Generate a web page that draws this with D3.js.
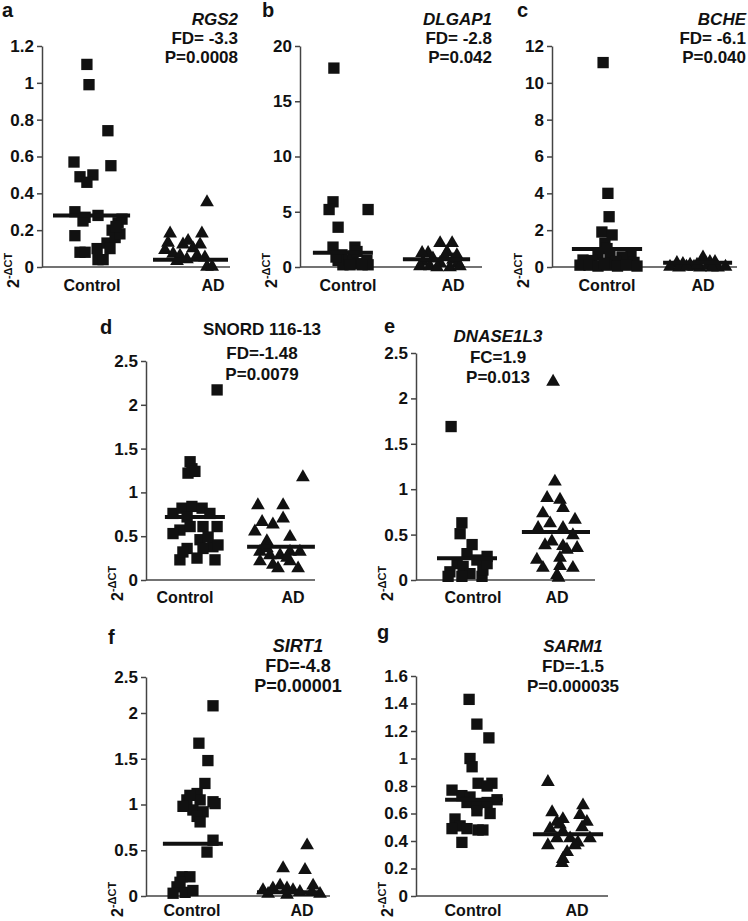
<!DOCTYPE html>
<html><head><meta charset="utf-8">
<script src="https://cdn.jsdelivr.net/npm/d3@7"></script>
<style>
body{margin:0;background:#fff}
svg{display:block}
text{font-family:"Liberation Sans",Arial,sans-serif;font-weight:bold;fill:#111}
</style>
</head><body>
<svg id="chart" width="748" height="921"></svg>
<script>
const categories = ["Control", "AD"];
const panelLetters = ["a","b","c","d","e","f","g"];
const geneNames = ["RGS2","DLGAP1","BCHE","SNORD 116-13","DNASE1L3","SIRT1","SARM1"];
const geneItalic = [true,true,true,false,true,true,true];
const foldLabels = ["FD= -3.3","FD= -2.8","FD= -6.1","FD=-1.48","FC=1.9","FD=-4.8","FD=-1.5"];
const pLabels = ["P=0.0008","P=0.042","P=0.040","P=0.0079","P=0.013","P=0.00001","P=0.000035"];

// a: RGS2
const rgs2Ticks = [0,0.2,0.4,0.6,0.8,1,1.2];
const rgs2Control = [1.10,0.99,0.74,0.57,0.55,0.49,0.50,0.46,0.30,0.27,0.28,0.25,0.17,0.08,0.08,0.10,0.04,0.04,0.13,0.20,0.24,0.26,0.16,0.10,0.18,0.22];
const rgs2ControlDx = [-0.17,-0.10,0.53,-0.60,0.63,-0.40,0.03,-0.17,-0.57,-0.23,0.20,-0.30,-0.57,-0.40,-0.23,0.17,0.20,0.37,0.50,0.67,0.87,1.00,0.77,0.60,0.93,0.80];
const rgs2AD = [0.19,0.14,0.10,0.08,0.13,0.15,0.11,0.19,0.13,0.36,0.06,0.01,0.04,0.05,0.07,0.07,0.01];
const rgs2ADDx = [-1.43,-1.5,-1.6,-1.33,-1.0,-0.83,-0.67,-0.37,-0.43,-0.2,-0.27,-0.2,-1.2,-0.87,-0.53,-1.1,-0.03];
const rgs2Means = [0.28,0.04];

// b: DLGAP1
const dlgap1Ticks = [0,5,10,15,20];
const dlgap1Control = [18.0,5.9,5.2,5.2,3.6,1.8,1.8,1.1,0.6,0.2,1.0,0.3,0.6,0.2,0.2,0.2,0.6,1.4,0.9];
const dlgap1ControlDx = [-0.47,-0.5,-0.63,0.67,-0.33,-0.5,0.23,-0.2,-0.03,-0.17,0.17,0.33,0.63,0.67,0.07,0.47,-0.33,0.3,-0.4];
const dlgap1AD = [2.3,2.3,1.4,1.4,1.5,0.6,0.9,0.5,0.8,0.5,0.2,0.2,0.1,0.2,0.1,1.1,1.2];
const dlgap1ADDx = [-0.43,-0.03,-0.83,-1.03,-0.2,-1.0,-0.67,-0.43,0,0.17,-1.1,-0.77,-0.1,0.23,-0.53,-0.27,0.13];
const dlgap1Means = [1.3,0.7];

// c: BCHE
const bcheTicks = [0,2,4,6,8,10,12];
const bcheControl = [11.1,4.0,2.73,1.9,1.74,1.29,1.0,0.65,0.6,0.65,0.55,0.38,0.35,0.3,0.25,0.1,0.1,0.05,0.1,0.05,0.1,0.05,0.2];
const bcheControlDx = [-0.13,0.03,0.07,-0.17,0.17,-0.07,0.0,-0.3,0.1,0.8,0.5,-0.8,-0.5,0.3,0.9,-0.9,-0.6,-0.3,0.0,0.35,0.65,1.0,-0.1];
const bcheAD = [0.3,0.25,0.2,0.6,0.35,0.35,0.1,0.05,0.1,0.05,0.15,0.05,0.1,0.2,0.05,0.1];
const bcheADDx = [-0.87,-0.67,-0.43,0.0,0.23,0.4,-1.1,-0.8,-0.3,-0.1,0.15,0.5,0.75,-0.2,0.3,-0.55];
const bcheMeans = [0.98,0.23];

// d: SNORD 116-13
const snordTicks = [0,0.5,1,1.5,2,2.5];
const snordControl = [2.17,1.35,1.27,1.22,1.24,0.76,0.82,0.84,0.82,0.76,0.72,0.57,0.53,0.61,0.61,0.61,0.46,0.38,0.36,0.36,0.23,0.25,0.23,0.32,0.49,0.40];
const snordControlDx = [1.07,0.17,0.23,0.1,0.33,-0.4,-0.1,0.23,0.57,0.83,0.07,-0.17,-0.4,0.17,0.6,1.07,0.5,0.93,0.07,0.6,-0.17,0.4,1.0,-0.07,0.77,1.1];
const snordAD = [0.87,0.87,1.19,0.72,0.68,0.65,0.57,0.46,0.51,0.34,0.30,0.30,0.34,0.34,0.23,0.19,0.15,0.23,0.15,0.27,0.38];
const snordADDx = [-1.17,-0.33,0.33,-0.33,-1.03,-0.67,-1.27,-0.87,-0.1,-1.1,-0.77,-0.43,-0.1,0.23,-1.1,-0.67,-0.5,-0.1,0.17,-0.2,-0.87];
const snordMeans = [0.72,0.38];

// e: DNASE1L3
const dnaseTicks = [0,0.5,1,1.5,2,2.5];
const dnaseControl = [1.69,0.63,0.51,0.39,0.29,0.26,0.22,0.18,0.09,0.04,0.15,0.07,0.04,0.11,0.04,0.18];
const dnaseControlDx = [-0.73,-0.37,-0.43,-0.03,-0.2,0.47,0.13,-0.53,-0.77,-0.83,-0.33,-0.1,0.3,0.33,-0.37,0.47];
const dnaseAD = [2.2,1.10,0.92,0.90,0.81,0.75,0.64,0.68,0.59,0.59,0.51,0.44,0.40,0.39,0.37,0.35,0.24,0.26,0.15,0.17,0.15,0.07,0.04];
const dnaseADDx = [-0.13,-0.07,-0.33,0.1,0.2,-0.47,-0.23,0.6,-0.63,0.2,0.53,-0.17,-0.4,0.2,0.67,0.33,-0.67,0.1,-0.47,0.1,0.53,0,0.05];
const dnaseMeans = [0.24,0.53];

// f: SIRT1
const sirt1Ticks = [0,0.5,1,1.5,2,2.5];
const sirt1Control = [2.1,1.67,1.48,1.23,1.12,1.05,1.05,1.03,0.94,0.92,1.01,0.87,0.81,0.61,0.48,0.21,0.21,0.10,0.04,0.06,0.03,0.15,1.1,0.98];
const sirt1ControlDx = [0.7,0.23,0.53,0.43,0.17,-0.17,0.27,0.7,0.03,0.37,0.77,0.17,0.27,0.7,0.5,-0.33,-0.07,-0.5,-0.23,0.03,-0.63,-0.4,-0.07,-0.3];
const sirt1AD = [0.57,0.32,0.30,0.13,0.10,0.08,0.10,0.08,0.06,0.06,0.04,0.03,0.04,0.13];
const sirt1ADDx = [0.17,-0.63,0.1,0.37,-0.97,-1.3,-0.5,-0.3,-0.07,0.33,-1.13,-0.5,0.6,-0.73];
const sirt1Means = [0.57,0.04];

// g: SARM1
const sarm1Ticks = [0,0.2,0.4,0.6,0.8,1,1.2,1.4,1.6];
const sarm1Control = [1.43,1.25,1.15,1.0,0.94,0.82,0.82,0.80,0.77,0.73,0.72,0.68,0.67,0.70,0.68,0.60,0.62,0.56,0.51,0.49,0.49,0.48,0.48,0.39];
const sarm1ControlDx = [-0.13,0.13,0.53,-0.1,-0.03,0.17,0.63,0.47,-0.7,-0.37,-0.1,-0.2,0.13,0.8,0.47,0.57,0.13,-0.6,-0.43,-0.7,-0.2,0.17,0.33,-0.37];
const sarm1AD = [0.84,0.62,0.57,0.55,0.50,0.48,0.43,0.38,0.43,0.40,0.38,0.33,0.28,0.25,0.67,0.60,0.55,0.51,0.43,0.53];
const sarm1ADDx = [-0.97,-0.83,-0.47,-0.67,-0.9,-0.47,-0.67,-0.97,-0.23,0.03,-0.07,-0.33,-0.47,-0.5,0.2,0.1,0.33,0.17,0.43,-0.57];
const sarm1Means = [0.70,0.45];

// layout (pixel geometry of each panel)
const layout = [
  {x0:42,  x1:230, yDom:[0,1.2],  yRange:[267,46],  cx:[92,213],  lines:[[-1.3,1.27],[-2.0,0.5]],   letter:[2,17],   tx:238, anchor:"end",    ty:[25,44,63], tsize:17, catDy:24},
  {x0:300, x1:482, yDom:[0,20],   yRange:[267,46],  cx:[348,453], lines:[[-1.17,0.83],[-1.67,0.57]], letter:[262,17], tx:492, anchor:"end",    ty:[25,44,63], tsize:17, catDy:24},
  {x0:552, x1:737, yDom:[0,12],   yRange:[267,46],  cx:[607,703], lines:[[-1.17,1.17],[-1.33,0.97]], letter:[517,17], tx:746, anchor:"end",    ty:[25,44,63], tsize:17, catDy:24},
  {x0:146, x1:315, yDom:[0,2.5],  yRange:[580,361], cx:[185,293], lines:[[-0.67,1.33],[-1.53,0.73]], letter:[100,334],tx:262, anchor:"middle", ty:[335,359,380], tsize:17, catDy:23},
  {x0:416, x1:595, yDom:[0,2.5],  yRange:[580,353], cx:[473,557], lines:[[-1.2,0.8],[-1.17,1.1]],    letter:[384,333],tx:498, anchor:"middle", ty:[342,363,383], tsize:17, catDy:23},
  {x0:146, x1:330, yDom:[0,2,2.5],yRange:[896,713,677], cx:[192,302], lines:[[-0.97,1.03],[-1.5,0.67]], letter:[108,644],tx:298, anchor:"middle", ty:[652,672,692], tsize:18, catDy:20},
  {x0:416, x1:608, yDom:[0,1.6],  yRange:[896,676], cx:[473,577], lines:[[-0.93,1.0],[-1.47,0.87]], letter:[377,639],tx:573, anchor:"middle", ty:[652,672,692], tsize:17, catDy:20}
];

const panelData = [
  {ticks:rgs2Ticks,   groups:[[rgs2Control,rgs2ControlDx],[rgs2AD,rgs2ADDx]],       means:rgs2Means},
  {ticks:dlgap1Ticks, groups:[[dlgap1Control,dlgap1ControlDx],[dlgap1AD,dlgap1ADDx]], means:dlgap1Means},
  {ticks:bcheTicks,   groups:[[bcheControl,bcheControlDx],[bcheAD,bcheADDx]],       means:bcheMeans},
  {ticks:snordTicks,  groups:[[snordControl,snordControlDx],[snordAD,snordADDx]],   means:snordMeans},
  {ticks:dnaseTicks,  groups:[[dnaseControl,dnaseControlDx],[dnaseAD,dnaseADDx]],   means:dnaseMeans},
  {ticks:sirt1Ticks,  groups:[[sirt1Control,sirt1ControlDx],[sirt1AD,sirt1ADDx]],   means:sirt1Means},
  {ticks:sarm1Ticks,  groups:[[sarm1Control,sarm1ControlDx],[sarm1AD,sarm1ADDx]],   means:sarm1Means}
];

const svg = d3.select("#chart");
const defs = svg.append("defs");
const f = defs.append("filter").attr("id","shadow").attr("x","-20%").attr("y","-200%").attr("width","140%").attr("height","500%");
f.append("feGaussianBlur").attr("stdDeviation",1.6);

const jitter = d3.scaleLinear().domain([-1,1]).range([-30,30]);
const squareSym = d3.symbol().type(d3.symbolSquare).size(128);
const triSym = d3.symbol().type(d3.symbolTriangle).size(82);
const AXC = "#444";

layout.forEach((L, i) => {
  const P = panelData[i];
  const g = svg.append("g");
  const y = d3.scaleLinear().domain(L.yDom).range(L.yRange);
  const xCat = d3.scaleOrdinal().domain(categories).range(L.cx);

  // y axis
  const ax = g.append("g").attr("transform", `translate(${L.x0},0)`)
    .call(d3.axisLeft(y).tickValues(P.ticks).tickSize(5).tickSizeOuter(0).tickPadding(3).tickFormat(d3.format("~g")));
  ax.select(".domain").attr("stroke", AXC).attr("stroke-width", 1.5);
  ax.selectAll(".tick line").attr("stroke", AXC).attr("stroke-width", 1.5);
  ax.selectAll(".tick text").attr("font-size", 17).attr("font-family", '"Liberation Sans",Arial,sans-serif').attr("font-weight","bold").attr("fill","#111");

  // x axis line
  g.append("line").attr("x1", L.x0).attr("x2", L.x1).attr("y1", y(0)).attr("y2", y(0))
    .attr("stroke", AXC).attr("stroke-width", 1.5);

  // category labels
  g.selectAll("text.cat").data(categories).join("text").attr("class","cat")
    .attr("x", d => xCat(d)).attr("y", y(0) + L.catDy).attr("text-anchor","middle")
    .attr("font-size", 16).text(d => d);

  // y label 2^-ΔCT
  const yl = g.append("text").attr("transform", `translate(${L.x0 - 23},${y(0) + 21}) rotate(-90)`)
    .attr("font-size", 16);
  yl.append("tspan").text("2");
  yl.append("tspan").attr("font-size", 11).attr("dy", -7).text("-ΔCT");

  // points
  P.groups.forEach(([vals, dxs], gi) => {
    const cat = categories[gi];
    const sym = gi === 0 ? squareSym : triSym;
    g.selectAll(null).data(vals.map((v, k) => ({v, dx: dxs[k]}))).join("path")
      .attr("d", sym)
      .attr("transform", d => `translate(${xCat(cat) + jitter(d.dx)},${y(d.v) + (gi === 1 ? 1.5 : 0)})`)
      .attr("fill", "#111");
  });

  // mean lines
  P.means.forEach((m, gi) => {
    const cat = categories[gi];
    const [a, b] = L.lines[gi];
    g.append("line").attr("x1", xCat(cat) + jitter(a)).attr("x2", xCat(cat) + jitter(b))
      .attr("y1", y(m) + 1.5).attr("y2", y(m) + 1.5)
      .attr("stroke", "#000").attr("stroke-opacity", 0.55).attr("stroke-width", 7).attr("filter","url(#shadow)");
    g.append("line").attr("x1", xCat(cat) + jitter(a)).attr("x2", xCat(cat) + jitter(b))
      .attr("y1", y(m)).attr("y2", y(m))
      .attr("stroke", "#111").attr("stroke-width", 4);
  });

  // panel letter
  g.append("text").attr("x", L.letter[0]).attr("y", L.letter[1]).attr("font-size", 20).text(panelLetters[i]);

  // titles
  const t = g.append("g").attr("font-size", L.tsize).attr("text-anchor", L.anchor);
  t.append("text").attr("x", L.tx).attr("y", L.ty[0]).attr("font-style", geneItalic[i] ? "italic" : "normal").text(geneNames[i]);
  t.append("text").attr("x", L.tx).attr("y", L.ty[1]).text(foldLabels[i]);
  t.append("text").attr("x", L.tx).attr("y", L.ty[2]).text(pLabels[i]);
});
</script>
</body></html>
